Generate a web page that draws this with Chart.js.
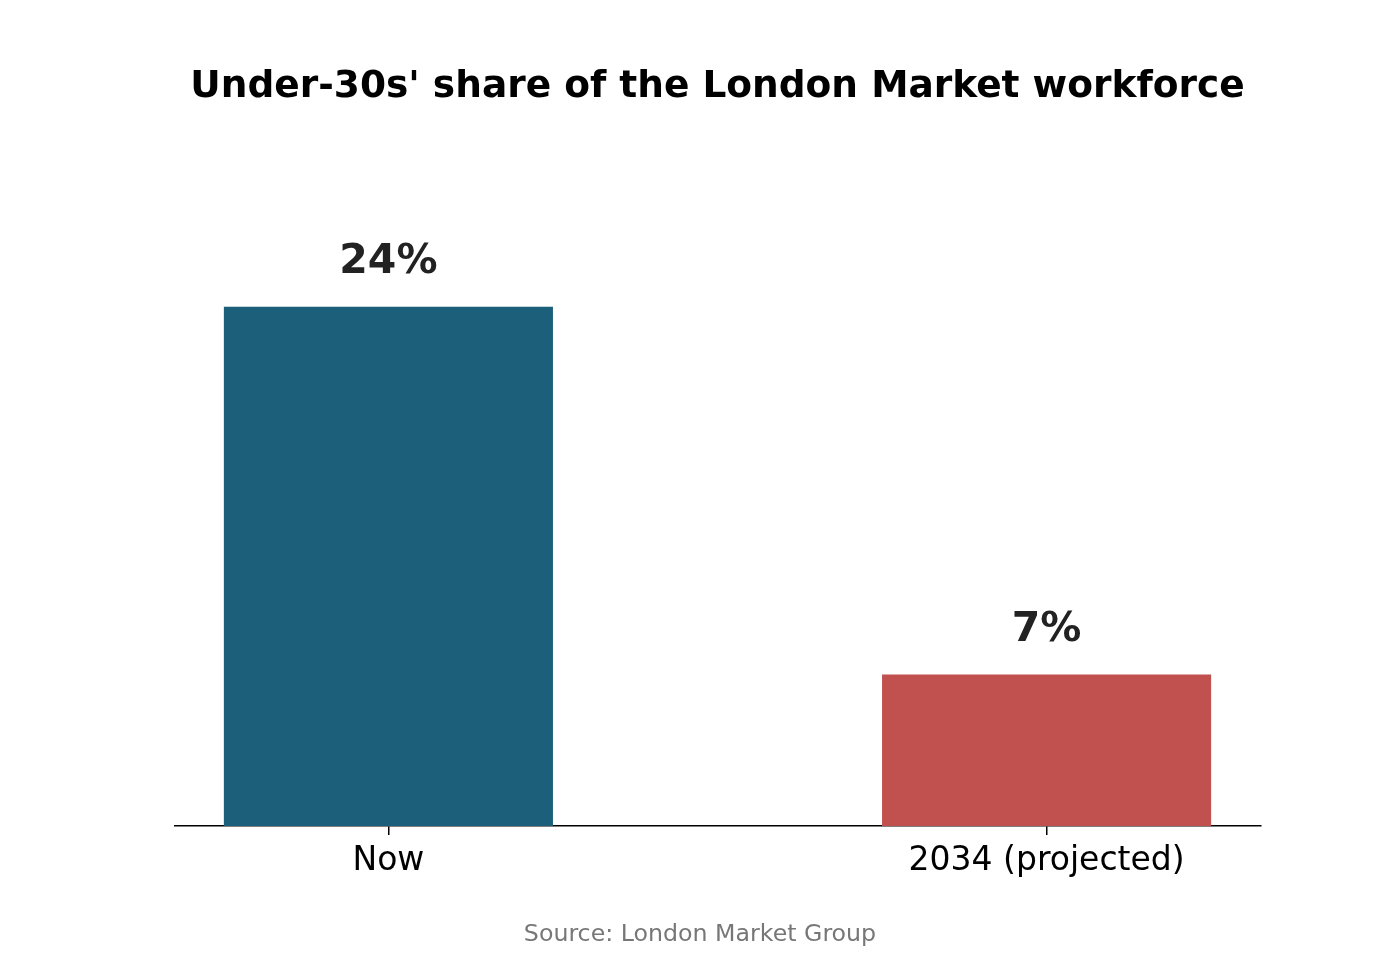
<!DOCTYPE html>
<html>
<head>
<meta charset="utf-8">
<script src="https://cdn.jsdelivr.net/npm/chart.js@4.4.1/dist/chart.umd.min.js"></script>
<style>
html,body{margin:0;padding:0;background:#fff;}
#wrap{width:1400px;height:960px;position:relative;}
</style>
</head>
<body>
<div id="wrap"><canvas id="c" width="1400" height="960"></canvas></div>
<script>
const categories = ["Now", "2034 (projected)"];
const positions = [0, 1];
const shareValues = [24, 7];
const barColors = ["#1b5f7a", "#c0514e"];
const titleText = "Under-30s' share of the London Market workforce";
const sourceText = "Source: London Market Group";

const FONT = "'DejaVu Sans', sans-serif";

const textPlugin = {
  id: 'textPlugin',
  afterDatasetsDraw(chart) {
    const ctx = chart.ctx;
    const area = chart.chartArea;
    ctx.save();
    const meta = chart.getDatasetMeta(0);
    ctx.font = "bold 41px " + FONT;
    ctx.fillStyle = "#222222";
    ctx.textAlign = "center";
    ctx.textBaseline = "alphabetic";
    meta.data.forEach((bar, i) => {
      ctx.fillText(shareValues[i] + "%", bar.x, bar.y - 33.5);
    });
    ctx.font = "bold 37.5px " + FONT;
    ctx.fillStyle = "#000000";
    ctx.fillText(titleText, (area.left + area.right) / 2, 97);
    ctx.font = "23.7px " + FONT;
    ctx.fillStyle = "#777777";
    ctx.fillText(sourceText, chart.width / 2, 941);
    ctx.restore();
  }
};

new Chart(document.getElementById('c'), {
  type: 'bar',
  data: {
    datasets: [{
      data: positions.map((p, i) => ({ x: p, y: shareValues[i] })),
      backgroundColor: barColors,
      borderWidth: 0,
      categoryPercentage: 0.5,
      barPercentage: 1.0
    }]
  },
  options: {
    responsive: false,
    animation: false,
    devicePixelRatio: 1,
    layout: { padding: { left: 174.5, right: 139.5, top: 177, bottom: 0 } },
    plugins: {
      legend: { display: false },
      title: { display: false },
      tooltip: { enabled: false }
    },
    scales: {
      x: {
        type: 'linear',
        offset: false,
        min: -0.325,
        max: 1.325,
        afterBuildTicks(scale) {
          scale.ticks = positions.map(v => ({ value: v }));
        },
        afterFit(scale) { scale.height = 134; },
        ticks: {
          autoSkip: false,
          maxRotation: 0,
          padding: 7,
          color: "#000000",
          font: { family: FONT, size: 33 },
          callback: (v) => { const i = positions.indexOf(v); return i >= 0 ? categories[i] : ""; }
        },
        grid: {
          display: true,
          offset: false,
          drawOnChartArea: false,
          drawTicks: true,
          tickLength: 9,
          color: "#000000",
          lineWidth: 1.5
        },
        border: { display: true, color: "#000000", width: 1.6 }
      },
      y: {
        display: false,
        min: 0,
        max: 30
      }
    }
  },
  plugins: [textPlugin]
});
</script>
</body>
</html>
